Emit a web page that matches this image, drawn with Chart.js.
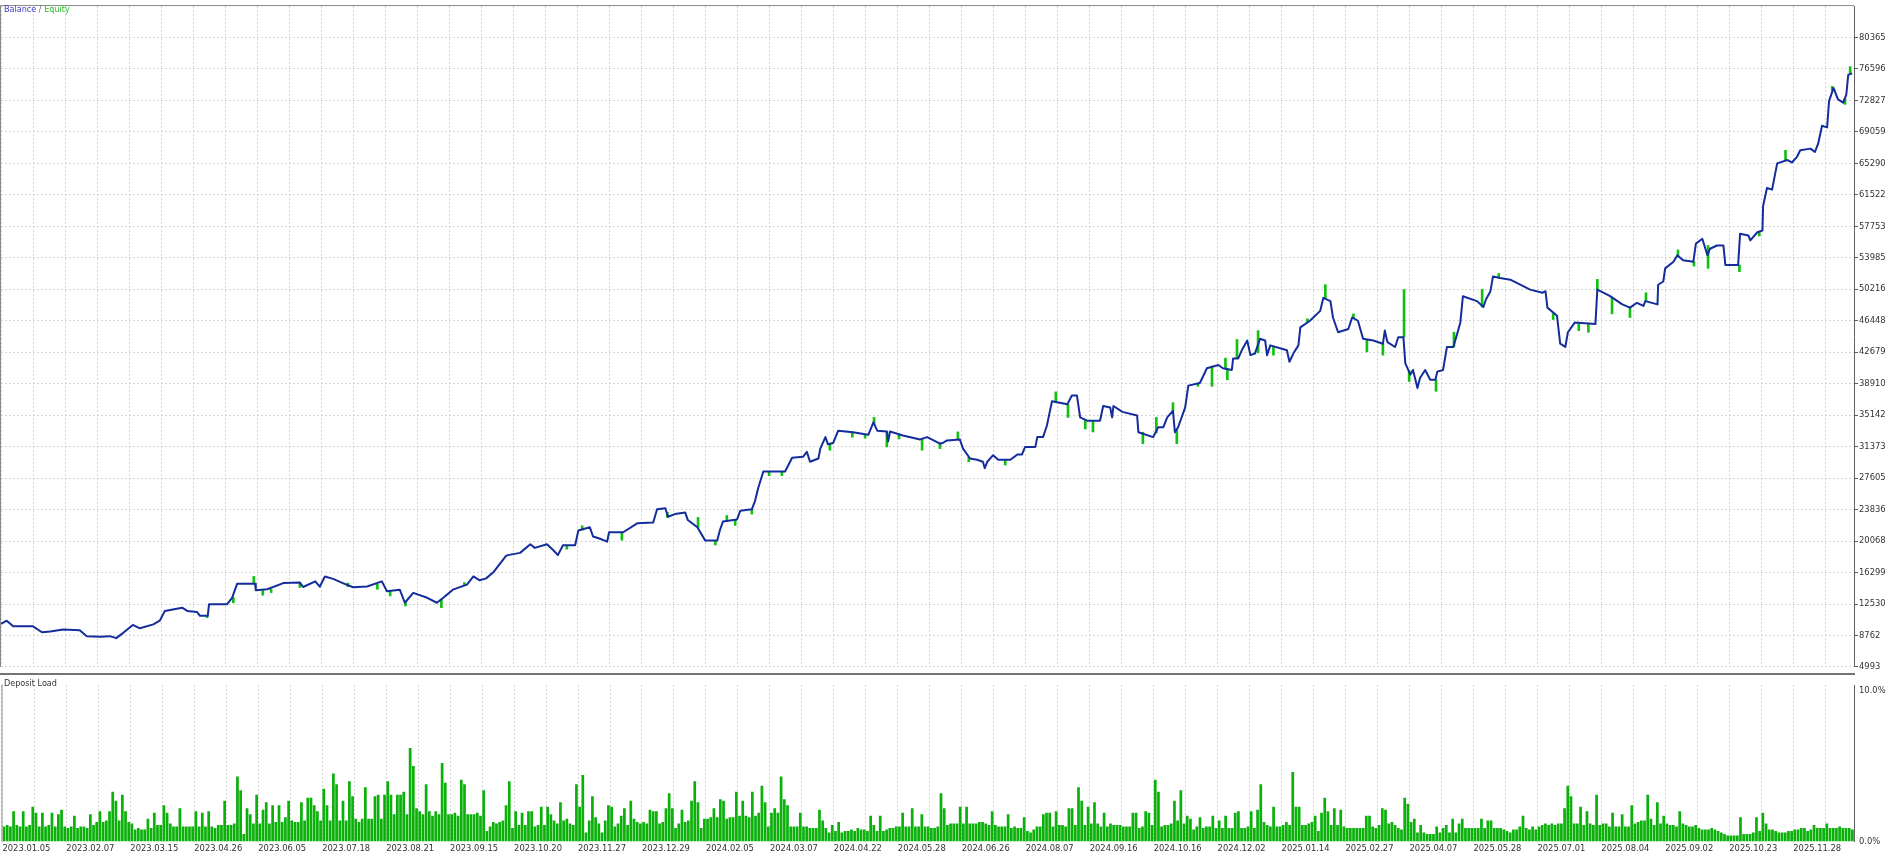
<!DOCTYPE html>
<html>
<head>
<meta charset="utf-8">
<title>Balance / Equity</title>
<script src="https://cdn.jsdelivr.net/npm/chart.js"></script>
<style>
  html, body { margin: 0; padding: 0; background: #fff; }
  #page { position: relative; width: 1894px; height: 855px; overflow: hidden; font-family: "DejaVu Sans", sans-serif; }
  #top { position: absolute; left: 0; top: 0; width: 1894px; height: 673px; }
  #sep { position: absolute; left: 0; top: 673px; width: 1855px; height: 2px; background: #747474; }
  #bottom { position: absolute; left: 0; top: 675px; width: 1894px; height: 180px; }
  .caption { position: absolute; left: 4px; font-size: 8.1px; line-height: 10px; white-space: nowrap; }
</style>
</head>
<body>
<div id="page">
  <div id="top"><canvas id="balanceChart"></canvas></div>
  <div id="sep"></div>
  <div id="bottom"><canvas id="loadChart"></canvas></div>
  <div class="caption" style="top:4px"><span style="color:#3a3ac8">Balance</span><span style="color:#666"> / </span><span style="color:#2ebf2e">Equity</span></div>
  <div class="caption" style="top:678px;color:#333">Deposit Load</div>
</div>
<script>
// x axis is the trade number; a date label every 100 trades
var totalTrades = 2895;
var dateLabels = ['2023.01.05','2023.02.07','2023.03.15','2023.04.26','2023.06.05','2023.07.18','2023.08.21','2023.09.15',
  '2023.10.20','2023.11.27','2023.12.29','2024.02.05','2024.03.07','2024.04.22','2024.05.28','2024.06.26','2024.08.07',
  '2024.09.16','2024.10.16','2024.12.02','2025.01.14','2025.02.27','2025.04.07','2025.05.28','2025.07.01','2025.08.04',
  '2025.09.02','2025.10.23','2025.11.28'];

var yTickLabels = [4993, 8762, 12530, 16299, 20068, 23836, 27605, 31373, 35142, 38910, 42679,
  46448, 50216, 53985, 57753, 61522, 65290, 69059, 72827, 76596, 80365];

var balanceTrade = [
  0,9,19,50,64,77,97,123,134,155,170,180,191,206,217,238,248,256,283,291,306,311,323,325,353,361,369,397,398,416,
  441,467,472,491,498,506,519,534,550,572,595,603,623,631,644,666,681,691,706,728,738,748,758,770,780,789,
  792,811,827,834,853,863,870,878,897,902,920,925,936,947,950,972,994,1019,1025,1038,1042,1053,1069,1073,1088,1100,
  1119,1123,1128,1150,1155,1173,1178,1183,1191,1225,1236,1253,1259,1264,1277,1280,1288,1292,1300,1308,1331,1355,
  1363,1369,1384,1386,1389,1409,1436,1447,1467,1472,
  1478,1498,1503,1514,1525,1534,1537,1541,1550,1558,1577,1588,1595,1600,1616,1619,1628,1634,1642,1666,1673,1681,
  1686,1697,1717,1722,1733,1736,1738,1752,1775,1777,1800,1808,1816,1822,1831,1834,1839,1850,1855,1873,1878,1884,
  1902,1909,1923,1925,1933,1939,1947,1952,1959,1967,1975,1978,1983,2009,2013,2019,2027,2030,2045,2061,2066,2077,
  2081,2089,2105,2111,2120,2128,2144,2159,2162,2166,2178,2183,2191,2194,2202,
  2206,2213,2217,2225,2233,2241,2244,2253,2259,2269,2275,2280,2284,2306,2316,2320,2327,2331,2342,2358,2389,2408,
  2413,2416,2431,2436,2444,2448,2459,2491,2494,2514,2533,2545,2556,2566,2569,2588,2589,2597,2600,2613,2619,2628,
  2644,2648,2658,2666,2670,2681,2691,2694,2714,2717,2730,2733,2744,2752,2753,2759,2767,2772,2775,2791,2798,2806,
  2811,2827,2834,2839,2845,2853,2856,2863,2870,2878,2883,2886,2892
];
var balanceValue = [
  10140,10528,9857,9857,9150,9233,9468,9386,8680,8609,8680,8444,9080,10022,9622,10092,10528,11706,12094,11706,
  11588,11117,11117,12495,12495,13274,14968,14968,14180,14300,15038,15100,14568,15240,14600,15828,15540,15038,
  14532,14620,15240,14061,14250,12683,13862,13274,12683,13274,14250,14850,15828,15370,15600,16400,17400,18300,
  18383,18655,19680,19250,19680,18970,18380,19560,19560,21330,21716,20620,20340,20000,21127,21127,22188,22300,
  23870,24000,22980,23300,23480,22600,21716,20150,20150,21330,22420,22660,23700,23870,24860,26430,28400,28400,
  30040,30160,30750,29570,29960,31140,32520,31650,31800,33290,33100,32790,34280,33290,33180,32000,33180,32710,
  32240,32520,31730,31840,
  32120,32240,31140,29960,29800,29570,28800,29570,30350,29800,29800,30430,30430,31340,31340,32520,32520,33880,
  36820,36440,37490,37490,34870,34480,34480,36240,36050,34870,36240,35540,35100,33100,32520,33700,33700,34870,
  35660,33100,33700,36050,38680,38990,39770,40760,41150,40760,40560,41940,41940,42990,44090,42330,42520,44290,
  44090,42330,43500,42920,41540,42520,43500,45660,46450,47630,49190,48800,46840,45070,45460,46840,46450,44290,
  44090,43700,45270,43900,43310,44480,44480,41340,40000,
  40560,38400,39600,40560,39380,39380,40360,40560,43310,43310,44880,46250,49390,48800,48100,49000,49990,51760,
  51560,51370,50180,49800,49990,48020,47040,43700,43310,45070,46250,46050,50180,49390,48410,48020,48600,48220,
  48800,48410,50760,51150,52720,53520,54290,53700,53520,55680,56260,54290,55070,55460,55460,53130,53130,56860,
  56660,56070,57050,57260,60190,62350,62150,64120,65290,65690,65400,66080,66860,67060,66660,67650,69800,69600,
  72750,74330,72950,72560,73540,75890,76080
];

// equity swings away from balance while trades are open
var spikeTrade = [322,363,395,409,422,467,542,588,608,632,688,724,884,908,970,1041,1089,1116,1134,1147,
  1173,1200,1220,1295,1330,1350,1364,1384,1403,1439,1467,1495,1512,1569,1648,1667,1694,1706,1784,1805,
  1831,1837,1870,1892,1913,1916,1931,1964,1988,2041,2069,2113,2134,2159,2192,2200,2242,2270,2314,2340,
  2425,2465,2480,2494,2517,2545,2570,2620,2645,2667,2716,2747,2788,2861,2881,2889];
var spikeFrom = [11117,13300,14968,14200,14300,15100,14600,14900,14100,12683,13100,14800,19560,21400,21127,
  23500,21700,20150,22420,22620,23870,28400,28400,31700,33100,32850,34000,33180,32800,32300,31800,32240,30100,
  29800,36700,36440,34480,34480,33100,33000,35660,33400,38990,41000,40760,40700,41940,42600,43400,46300,49100,
  46840,44200,43700,44480,40500,39380,43310,48100,51560,47300,46200,46100,50180,49200,48020,48800,54290,53520,
  55460,53130,57100,65690,74000,73000,76000];
var spikeTo = [10900,12680,15830,13590,13900,14500,15040,14300,13500,12300,12100,15100,19100,21900,20180,
  22900,22900,19600,23130,21950,23300,27900,27900,30950,32500,32400,34870,31340,32300,30950,31140,33140,29570,
  29170,37930,34870,33490,33140,31730,34870,36640,31730,38600,38600,41970,39380,44200,45270,42330,46680,50770,
  47270,42720,42330,50180,39180,38000,45070,50220,52100,46600,45270,45070,51400,47270,46840,49800,54930,53000,
  52720,52330,56600,66860,74520,72360,76870];

// deposit load in %, one bar per 5 trades
var barTrades = 5;
var depositLoad = [
  1.0,1.1,1.0,2.0,1.1,1.0,2.0,1.0,1.1,2.3,1.9,1.0,1.9,1.0,1.1,1.9,1.0,1.8,2.1,1.0,
  0.9,1.0,1.7,0.9,1.0,1.0,0.9,1.8,1.1,1.3,2.0,1.3,1.4,2.0,3.3,2.7,1.4,3.1,2.0,1.3,
  1.2,0.8,0.9,0.8,0.8,1.5,0.9,1.9,1.1,1.1,2.4,1.9,1.2,1.0,1.0,2.2,1.0,1.0,1.0,1.0,
  2.0,1.0,1.9,1.0,2.0,1.0,0.9,1.1,1.1,2.7,1.1,1.1,1.2,4.3,3.4,0.5,2.2,1.8,1.2,3.1,
  1.2,2.1,2.6,1.2,2.4,1.3,2.4,1.3,1.6,2.7,1.4,1.3,1.3,2.6,1.4,2.9,2.9,2.4,2.0,1.4,
  3.5,2.4,1.4,4.5,3.8,1.4,2.7,1.4,4.0,3.0,1.5,1.3,1.5,3.6,1.5,1.5,3.0,3.1,1.5,3.1,
  4.0,3.1,1.8,3.1,3.1,3.3,1.8,6.2,5.0,2.2,2.0,1.8,3.8,2.0,1.7,2.0,1.8,5.2,3.9,1.8,
  1.8,1.9,1.7,4.1,3.8,1.8,1.8,1.8,1.9,1.7,3.4,0.7,1.0,1.3,1.2,1.3,1.4,2.4,4.0,0.9,
  2.0,1.1,1.9,1.1,2.0,2.0,1.0,1.1,2.3,1.1,2.3,1.8,1.4,1.2,2.6,1.4,1.5,1.2,1.1,3.8,
  2.3,4.4,0.6,1.4,3.0,1.6,1.2,0.6,1.4,2.4,2.3,1.0,1.2,1.7,2.2,1.1,2.7,1.5,1.3,1.2,
  1.3,1.2,2.1,2.0,2.0,1.2,1.3,2.2,3.2,2.2,0.9,1.2,2.1,1.3,1.4,2.7,4.0,2.6,0.9,1.5,
  1.5,1.6,2.2,1.6,2.8,2.7,1.5,1.6,1.6,3.3,1.7,2.7,1.7,1.6,3.3,1.7,1.9,3.7,2.6,1.0,
  1.9,2.2,1.9,4.3,2.8,2.4,1.0,1.0,1.0,1.9,1.0,1.0,0.9,0.9,0.9,2.1,1.4,0.9,0.6,1.1,
  0.7,1.3,0.6,0.7,0.7,0.8,0.7,0.9,0.8,0.8,0.7,1.7,1.1,0.7,1.7,0.7,0.8,0.9,0.9,1.0,
  1.0,1.9,1.0,1.0,2.2,1.0,1.0,1.8,1.0,1.0,0.9,0.9,1.0,3.2,2.2,1.1,1.2,1.2,1.2,2.3,
  1.2,2.3,1.2,1.2,1.2,1.3,1.3,1.2,1.1,2.0,1.1,1.0,1.0,1.0,1.8,0.9,1.0,0.9,0.9,1.6,
  0.7,0.6,0.8,1.0,1.0,1.8,1.9,1.9,1.0,2.0,1.1,1.1,1.0,2.2,2.2,1.1,3.6,2.7,1.1,2.3,
  1.2,2.6,1.2,1.0,1.9,1.0,1.2,1.1,1.1,1.1,1.0,1.0,1.0,1.9,1.9,0.9,1.0,2.0,1.9,1.1,
  4.1,3.3,1.0,1.1,1.1,1.2,2.7,1.4,3.4,1.2,1.7,1.5,0.8,1.0,1.6,0.9,1.0,1.0,1.7,0.9,
  1.4,0.9,1.7,0.9,0.9,1.9,2.0,0.9,0.9,1.0,2.0,0.9,2.1,3.8,1.3,1.1,1.0,2.3,1.0,1.0,
  1.1,1.3,1.1,4.6,2.3,2.3,1.1,1.1,1.2,1.3,1.7,0.7,1.9,2.9,2.0,1.1,2.2,1.1,2.1,1.0,
  0.9,0.9,0.9,0.9,0.9,0.9,1.7,1.7,1.0,0.9,1.1,2.2,2.1,1.2,1.3,1.1,0.9,0.8,2.9,2.5,
  1.3,1.5,0.6,1.1,0.6,0.5,0.5,0.5,1.0,0.6,0.9,1.1,0.6,1.5,0.6,1.2,1.5,0.9,0.9,0.9,
  0.9,0.9,1.5,0.9,1.4,1.4,0.9,0.9,0.9,0.8,0.7,0.6,0.8,0.8,1.0,1.7,0.9,0.8,1.0,0.8,
  1.0,1.1,1.2,1.1,1.2,1.1,1.2,1.2,2.2,3.7,3.0,1.2,1.2,2.3,1.1,2.0,1.2,1.1,3.1,1.1,
  1.2,1.2,1.0,1.9,1.0,1.0,1.8,1.0,1.0,2.4,1.2,1.3,1.4,1.4,3.1,1.5,1.1,2.6,1.2,1.7,
  1.2,1.1,1.1,1.0,2.0,1.2,1.1,1.0,1.0,1.1,0.9,0.8,0.8,0.8,0.9,0.8,0.7,0.6,0.5,0.4,
  0.4,0.4,0.4,1.6,0.5,0.5,0.5,0.6,1.6,0.7,1.9,1.2,0.8,0.8,0.7,0.6,0.6,0.6,0.7,0.7,
  0.8,0.8,0.9,0.9,0.7,0.8,1.1,0.9,0.9,0.9,1.2,0.9,0.9,0.9,1.0,0.9,0.9,0.9,0.8
];

Chart.defaults.font.family = '"DejaVu Sans", sans-serif';
Chart.defaults.font.size = 8.4;
Chart.defaults.color = '#333';

var gridColor = '#d4d4d4';
var axisColor = '#606060';

// one grid line every 50 trades
var xTicks = [];
for (var t = 0; t < totalTrades; t += 50) {
    xTicks.push({value: t});
}

// thin frame on the left (and top) edge of the plot
function makeFrame(withTop) {
    return {
        id: 'frame',
        afterDraw: function(chart) {
            var ctx = chart.ctx;
            var a = chart.chartArea;
            ctx.save();
            ctx.strokeStyle = '#8a8a8a';
            ctx.lineWidth = 1;
            ctx.beginPath();
            ctx.moveTo(a.left - 0.5, a.bottom);
            ctx.lineTo(a.left - 0.5, a.top - 0.5);
            if (withTop) ctx.lineTo(a.right, a.top - 0.5);
            ctx.stroke();
            ctx.restore();
        }
    };
}

var balancePoints = [];
for (var i in balanceTrade) {
    balancePoints.push({x: balanceTrade[i], y: balanceValue[i]});
}
var equitySpikes = [];
for (var j in spikeTrade) {
    equitySpikes.push({x: spikeTrade[j], y: [spikeFrom[j], spikeTo[j]]});
}
var loadBars = [];
for (var k = 0; k < depositLoad.length; k++) {
    loadBars.push({x: k * barTrades + barTrades / 2, y: depositLoad[k]});
}

var balanceChart = new Chart(document.getElementById('balanceChart'), {
    type: 'line',
    data: {
        datasets: [
            {
                label: 'Balance',
                data: balancePoints,
                borderColor: '#142c9c',
                borderWidth: 2,
                borderJoinStyle: 'round',
                pointRadius: 0,
                tension: 0,
                order: 0
            },
            {
                type: 'bar',
                label: 'Equity',
                data: equitySpikes,
                backgroundColor: '#11c011',
                barThickness: 2,
                grouped: false,
                order: 1
            }
        ]
    },
    options: {
        responsive: true,
        maintainAspectRatio: false,
        animation: false,
        layout: {padding: {left: 1, top: 1, right: 0, bottom: 1}},
        plugins: {legend: {display: false}, tooltip: {enabled: false}},
        scales: {
            x: {
                type: 'linear',
                min: 0,
                max: totalTrades,
                offset: false,
                grid: {color: gridColor, drawTicks: false, offset: false},
                border: {display: false, dash: [2, 2]},
                ticks: {display: false},
                afterBuildTicks: function(scale) { scale.ticks = xTicks.slice(); },
                afterFit: function(scale) { scale.height = 0; }
            },
            y: {
                position: 'right',
                min: yTickLabels[0],
                max: 84134,
                grid: {color: gridColor, tickColor: axisColor, tickLength: 4},
                border: {display: true, color: axisColor, dash: [2, 2]},
                ticks: {
                    padding: 1,
                    autoSkip: false,
                    callback: function(v) { return String(Math.round(v)); }
                },
                afterBuildTicks: function(scale) {
                    scale.ticks = yTickLabels.map(function(v) { return {value: v}; });
                },
                afterFit: function(scale) { scale.width = 40; }
            }
        }
    },
    plugins: [makeFrame(true)]
});

var loadChart = new Chart(document.getElementById('loadChart'), {
    type: 'bar',
    data: {
        datasets: [{
            label: 'Deposit Load',
            data: loadBars,
            backgroundColor: '#0bb00b',
            categoryPercentage: 0.85,
            barPercentage: 1
        }]
    },
    options: {
        responsive: true,
        maintainAspectRatio: false,
        animation: false,
        layout: {padding: {left: 1, top: 0, right: 0, bottom: 0}},
        plugins: {legend: {display: false}, tooltip: {enabled: false}},
        scales: {
            x: {
                type: 'linear',
                min: 0,
                max: totalTrades,
                offset: false,
                grid: {color: gridColor, drawTicks: false, offset: false},
                border: {display: false, dash: [2, 2]},
                ticks: {
                    padding: 2.4,
                    align: 'start',
                    maxRotation: 0,
                    autoSkip: false,
                    callback: function(v) { return v % 100 === 0 ? dateLabels[v / 100] : ''; }
                },
                afterBuildTicks: function(scale) { scale.ticks = xTicks.slice(); },
                afterFit: function(scale) { scale.height = 13.5; }
            },
            y: {
                position: 'right',
                min: 0,
                max: 10.37,
                grid: {display: false, drawTicks: false},
                border: {display: true, color: axisColor},
                ticks: {
                    padding: 5,
                    callback: function(v) { return v.toFixed(1) + '%'; }
                },
                afterBuildTicks: function(scale) { scale.ticks = [{value: 0}, {value: 10}]; },
                afterFit: function(scale) { scale.width = 40; }
            }
        }
    },
    plugins: [makeFrame(false)]
});
</script>
</body>
</html>
